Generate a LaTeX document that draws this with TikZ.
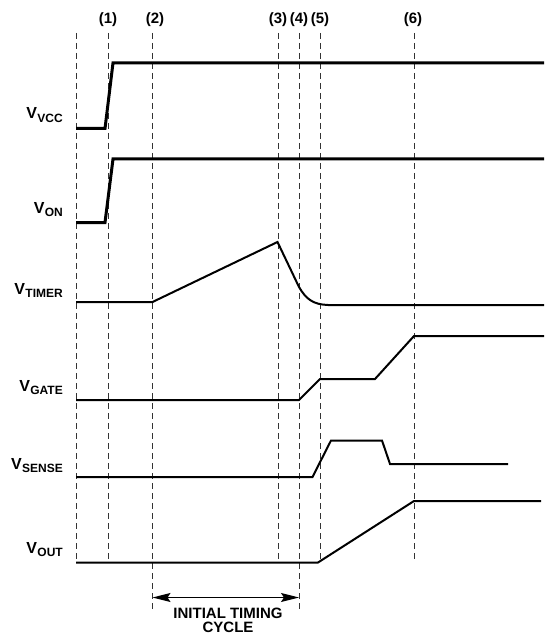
\documentclass[tikz,border=0pt]{standalone}
\usepackage{fontspec}
\setmainfont{Liberation Sans}
\usetikzlibrary{arrows.meta}
\newcommand{\sigl}[1]{V\kern0.3pt{\fontsize{12}{12}\selectfont\raisebox{-3.5pt}{#1}}}
\tikzset{
  sigA/.style={line width=3pt, line join=miter},
  sigB/.style={line width=2pt, line join=miter},
  guide/.style={line width=1pt, black!80, dash pattern=on 6pt off 4pt},
  lbl/.style={font=\fontsize{16}{16}\selectfont\bfseries, anchor=base east, inner sep=0pt},
  tlbl/.style={font=\fontsize{15}{15}\selectfont\bfseries, inner sep=0pt},
  dim/.style={line width=1.3pt, {Stealth[length=18pt,width=9pt,inset=3pt]}-{Stealth[length=18pt,width=9pt,inset=3pt]}}
}
\begin{document}
\begin{tikzpicture}[x=1pt,y=-1pt]
\useasboundingbox (0,0) rectangle (544,636);
% guide lines
\coordinate (g0t) at (76,33);   \coordinate (g0b) at (76,562);
\coordinate (g1t) at (108,33);  \coordinate (g1b) at (108,562);
\coordinate (g2t) at (152.5,33);\coordinate (g2b) at (152.5,612);
\coordinate (g3t) at (278,33);  \coordinate (g3b) at (278,562);
\coordinate (g4t) at (299,33);  \coordinate (g4b) at (299,612);
\coordinate (g5t) at (320,33);  \coordinate (g5b) at (320,562);
\coordinate (g6t) at (414,33);  \coordinate (g6b) at (414,562);
\foreach \i in {0,...,6} {\draw[guide] (g\i t) -- (g\i b);}
% top labels
\node[tlbl] (l1) at (108,20) {(1)};
\node[tlbl] (l2) at (155,20) {(2)};
\node[tlbl] (l3) at (278,20) {(3)};
\node[tlbl] (l4) at (299,20) {(4)};
\node[tlbl] (l5) at (320,20) {(5)};
\node[tlbl] (l6) at (413,20) {(6)};
% signals
\draw[sigA] (76,128.5) -- (105,128.5) -- (113,63) -- (544,63);
\draw[sigA] (76,222.5) -- (105,222.5) -- (113,159) -- (544,159);
\draw[sigB] (76,302) -- (152.5,302) -- (277.5,242) -- (299,287)
  .. controls (306,299) and (313,304.5) .. (328,305) -- (544,305);
\draw[sigB] (76,400) -- (299,400) -- (320,379) -- (375,379) -- (414,336) -- (544,336);
\draw[sigB] (76,477) -- (312.5,477) -- (331,440.5) -- (382,440.5) -- (390,464) -- (508,464);
\draw[sigB] (76,562.5) -- (318,562.5) -- (414,501) -- (541,501);
% signal labels
\node[lbl] (vcc) at (63,119) {\sigl{VCC}};
\node[lbl] (von) at (63,213) {\sigl{ON}};
\node[lbl] (vtimer) at (63,294) {\sigl{TIMER}};
\node[lbl] (vgate) at (63,391) {\sigl{GATE}};
\node[lbl] (vsense) at (63,469) {\sigl{SENSE}};
\node[lbl] (vout) at (63,553) {\sigl{OUT}};
% timing cycle
\coordinate (a1) at (152.5,597.5);
\coordinate (a2) at (299,597.5);
\draw[dim] (a1) -- (a2);
\node[tlbl, align=center, font=\fontsize{15}{14.5}\selectfont\bfseries] (cyc) at (228,620.5) {INITIAL TIMING\\CYCLE};
\end{tikzpicture}
\end{document}
